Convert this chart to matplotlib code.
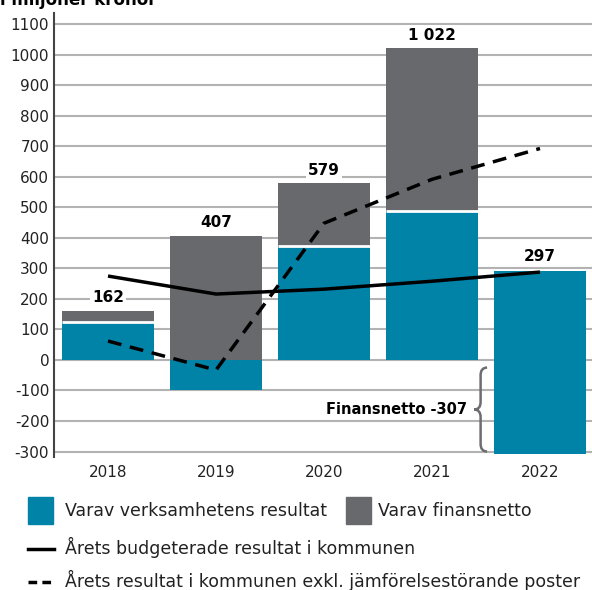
import matplotlib.pyplot as plt
import numpy as np
from matplotlib.patches import Rectangle, PathPatch
from matplotlib.path import Path
from matplotlib.lines import Line2D

# data (miljoner kronor)
years = ['2018', '2019', '2020', '2021', '2022']
verksamhet = [123, -99, 375, 488, 600]
finansnetto = [39, 407, 204, 534, -307]
totals = ['162', '407', '579', '1 022', '297']
label_top = [162, 407, 579, 1022, 297]
budget = [275, 216, 232, 258, 288]
utfall = [62, -33, 448, 592, 693]

teal = '#0083a6'
grey = '#67696c'

plt.rcParams['font.family'] = ['DejaVu Sans']
plt.rcParams['axes.unicode_minus'] = False

fig = plt.figure(figsize=(5.92, 5.90), dpi=100)
ax = fig.add_axes([54 / 592, 1 - 457 / 590, 540 / 592, (457 - 13) / 590])

x = np.arange(len(years))
w = 0.86

for i in range(len(years)):
    v = verksamhet[i]
    f = finansnetto[i]
    if f >= 0 and v >= 0:
        ax.bar(x[i], v, w, color=teal, zorder=2)
        ax.bar(x[i], f, w, bottom=v, color=grey, zorder=2)
        ax.hlines(v, x[i] - w / 2, x[i] + w / 2, color='white', lw=2, zorder=3)
    elif v < 0:
        ax.bar(x[i], v, w, color=teal, zorder=2)
        ax.bar(x[i], f, w, color=grey, zorder=2)
    else:
        # finansnetto negative: whole bar drawn in teal
        ax.bar(x[i], v, w, bottom=f, color=teal, zorder=2)
    ax.text(x[i], label_top[i] + 18, totals[i], ha='center', va='bottom',
            fontsize=11, fontweight='bold', zorder=5,
            bbox=dict(boxstyle='square,pad=0.15', fc='white', ec='none'))

ax.plot(x, budget, color='black', lw=2.5, zorder=4, solid_capstyle='butt')
ax.plot(x, utfall, color='black', lw=2.5, ls=(0, (4, 2.5)), zorder=4)

# brace for finansnetto 2022
x0, bw = 3.39, 0.12
yt, yb = -25, -300
ym = (yt + yb) / 2
r = 25
verts = [(x0 + bw, yt), (x0 + bw / 2, yt), (x0 + bw / 2, yt - r),
         (x0 + bw / 2, ym + r), (x0 + bw / 2, ym), (x0, ym),
         (x0 + bw / 2, ym), (x0 + bw / 2, ym - r),
         (x0 + bw / 2, yb + r), (x0 + bw / 2, yb), (x0 + bw, yb)]
codes = [Path.MOVETO, Path.CURVE3, Path.CURVE3, Path.LINETO, Path.CURVE3, Path.CURVE3,
         Path.CURVE3, Path.CURVE3, Path.LINETO, Path.CURVE3, Path.CURVE3]
ax.add_patch(PathPatch(Path(verts, codes), fc='none', ec='#6b6d70', lw=1.8, zorder=4))
ax.text(x0 - 0.07, ym, 'Finansnetto -307', ha='right', va='center',
        fontsize=10.5, fontweight='bold')

ax.set_xlim(-0.5, 4.5)
ax.set_ylim(-318, 1137)
ax.set_yticks(np.arange(-300, 1101, 100))
ax.set_xticks(x)
ax.set_xticklabels(years)
ax.yaxis.grid(True, color='#b3b3b3', lw=1.5, zorder=0)
ax.set_axisbelow(True)
for s in ['top', 'right', 'bottom']:
    ax.spines[s].set_visible(False)
ax.spines['left'].set_color('#444444')
ax.spines['left'].set_linewidth(1.5)
ax.tick_params(axis='both', length=0, labelsize=11, colors='#222222')
ax.tick_params(axis='x', pad=6)

# clipped title at the very top
fig.text(0.0, 1 - 5 / 590, 'i miljoner kronor', fontsize=12, fontweight='bold',
         ha='left', va='baseline')

# legend
def fx(px):
    return px / 592

def fy(py):
    return 1 - py / 590

fig.add_artist(Rectangle((fx(28), fy(524)), fx(25), 27 / 590, transform=fig.transFigure,
                         color=teal))
fig.text(fx(65), fy(511), 'Varav verksamhetens resultat', fontsize=12.5, va='center',
         color='#222222')
fig.add_artist(Rectangle((fx(346), fy(524)), fx(25), 27 / 590, transform=fig.transFigure,
                         color=grey))
fig.text(fx(378), fy(511), 'Varav finansnetto', fontsize=12.5, va='center', color='#222222')
fig.add_artist(Line2D([fx(28), fx(54)], [fy(549), fy(549)], transform=fig.transFigure,
                      color='black', lw=2.5))
fig.text(fx(65), fy(547), 'Årets budgeterade resultat i kommunen', fontsize=12.5,
         va='center', color='#222222')
fig.add_artist(Line2D([fx(28), fx(54)], [fy(582), fy(582)], transform=fig.transFigure,
                      color='black', lw=2.5, ls=(0, (2.5, 1.5))))
fig.text(fx(65), fy(580), 'Årets resultat i kommunen exkl. jämförelsestörande poster',
         fontsize=12.5, va='center', color='#222222')

fig.savefig('out.png', dpi=100)
